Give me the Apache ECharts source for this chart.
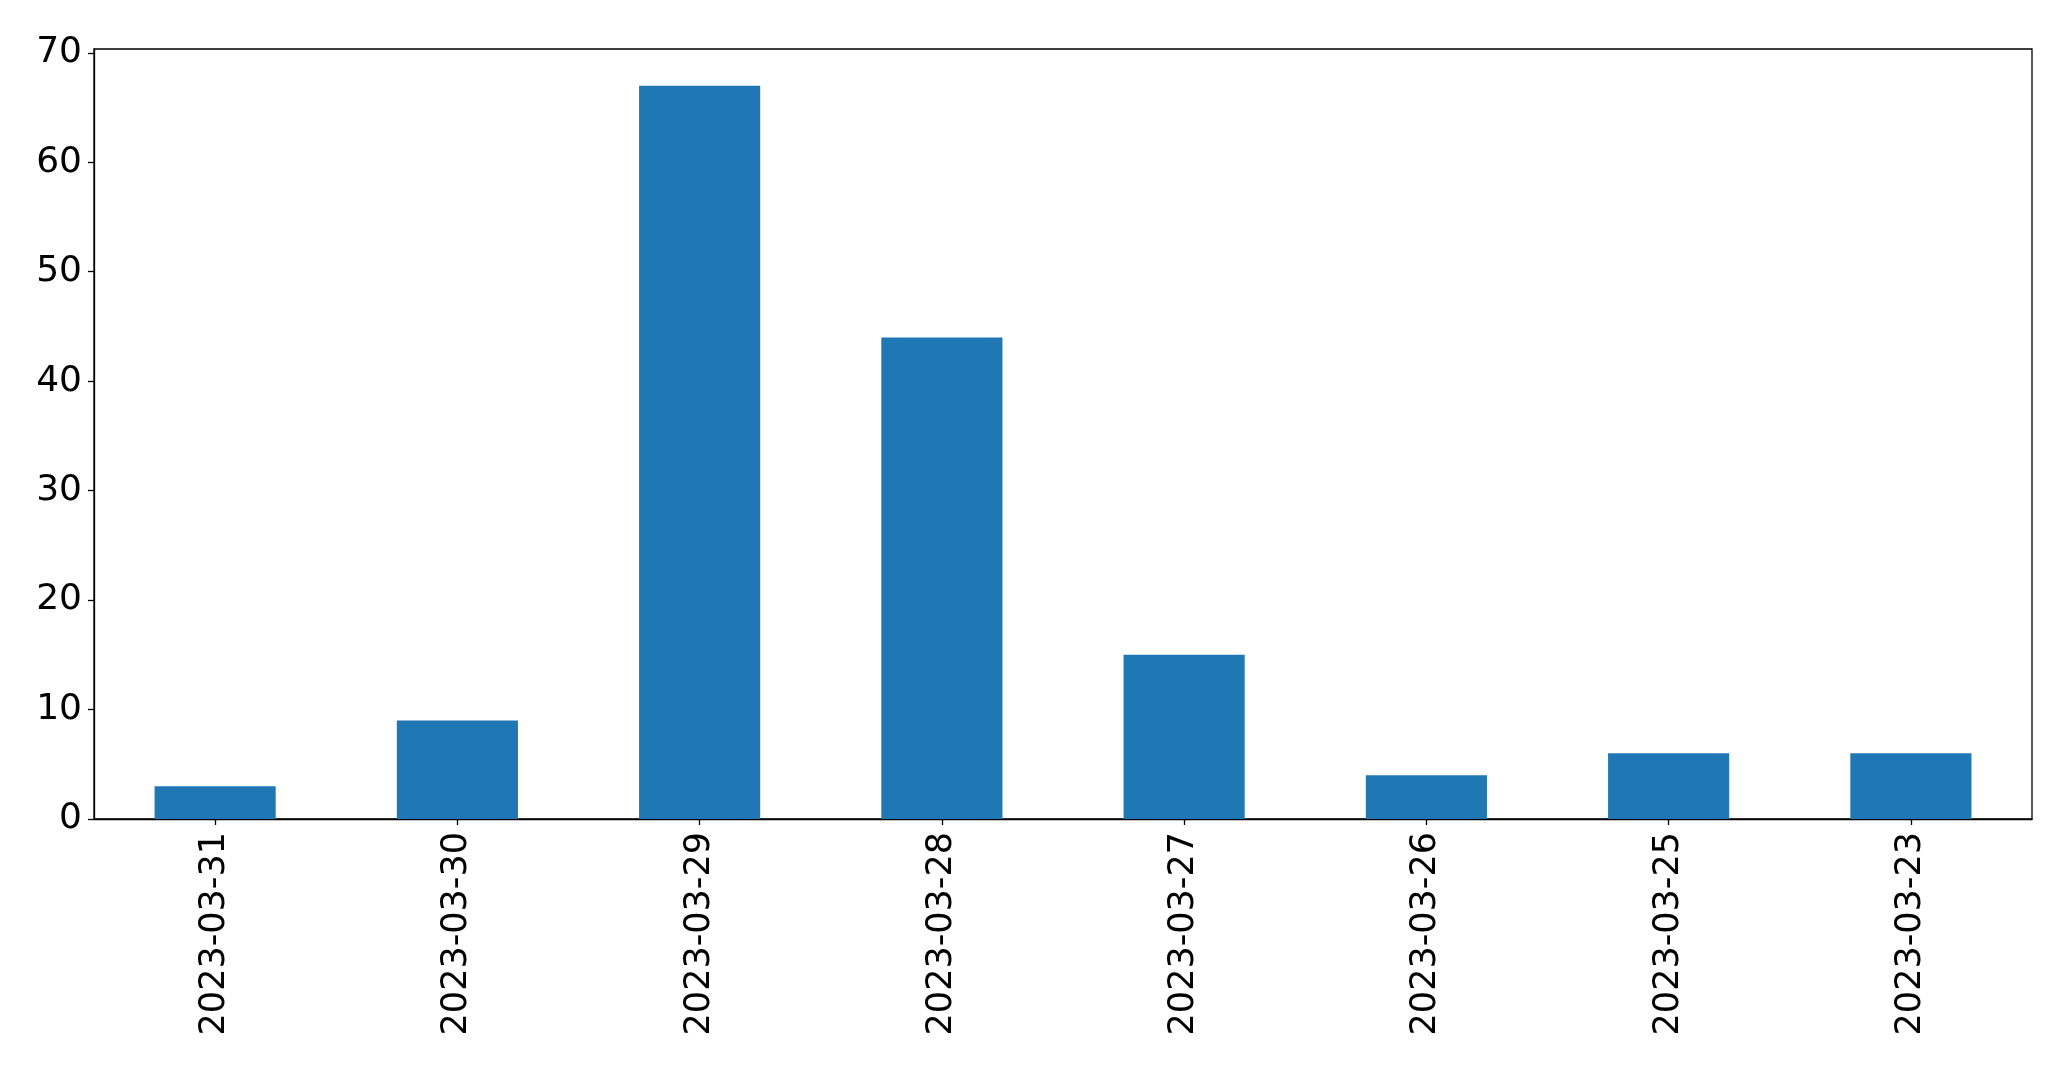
<!DOCTYPE html>
<html>
<head>
<meta charset="utf-8">
<script src="https://cdn.jsdelivr.net/npm/echarts@6/dist/echarts.min.js"></script>
<style>
html,body{margin:0;padding:0;background:#fff;}
#main{width:2071px;height:1071px;}
</style>
</head>
<body>
<div id="main"></div>
<script>
var categories = ['2023-03-31','2023-03-30','2023-03-29','2023-03-28','2023-03-27','2023-03-26','2023-03-25','2023-03-23'];
var values = [3, 9, 67, 44, 15, 4, 6, 6];
var yTicks = [0, 10, 20, 30, 40, 50, 60, 70];
var yMax = 70.35;

var chart = echarts.init(document.getElementById('main'), null, {renderer: 'canvas'});
var font = 'DejaVu Sans';
chart.setOption({
  animation: false,
  backgroundColor: '#ffffff',
  grid: {
    left: 94, right: 39, top: 49, bottom: 252,
    show: true, borderColor: '#000', borderWidth: 1.3, backgroundColor: 'transparent'
  },
  xAxis: {
    type: 'category',
    data: categories,
    boundaryGap: true,
    axisLine: {show: true, lineStyle: {color: '#000', width: 1.3}},
    axisTick: {show: true, alignWithLabel: true, length: 6, lineStyle: {color: '#000', width: 1.3}},
    axisLabel: {rotate: 90, margin: 13, color: '#000', fontFamily: font, fontSize: 35, interval: 0},
    splitLine: {show: false}
  },
  yAxis: {
    type: 'value',
    min: 0,
    max: yMax,
    axisLine: {show: true, lineStyle: {color: '#000', width: 1.3}},
    axisTick: {show: true, length: 6, lineStyle: {color: '#000', width: 1.3}, customValues: yTicks},
    axisLabel: {margin: 12, color: '#000', fontFamily: font, fontSize: 36, padding: [6, 0, 0, 0], customValues: yTicks},
    splitLine: {show: false}
  },
  series: [{
    type: 'bar',
    data: values,
    barWidth: '50%',
    itemStyle: {color: '#1f77b4'}
  }]
});
</script>
</body>
</html>
